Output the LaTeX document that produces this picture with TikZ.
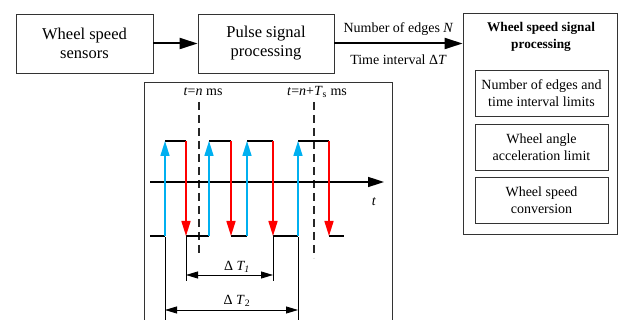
\documentclass[tikz,border=0pt]{standalone}
\usepackage{fontspec}
\setmainfont{Liberation Serif}
\usetikzlibrary{arrows.meta}

\definecolor{risecol}{RGB}{0,176,240}
\definecolor{fallcol}{RGB}{255,0,0}

\begin{document}
\begin{tikzpicture}[
    x=1pt, y=-1pt,
    block/.style={draw=black!80, line width=0.8pt, minimum width=137pt,
                  minimum height=59pt, align=center,
                  font=\fontsize{16.5}{19}\selectfont},
    subblock/.style={draw=black!80, line width=0.8pt, minimum width=133pt,
                     minimum height=46pt, align=center,
                     font=\fontsize{14}{17}\selectfont},
    flow/.style={black, line width=2pt, -{Triangle[length=18pt, width=11pt]}},
    level/.style={black, line width=1.8pt},
    rise/.style={risecol, line width=1.6pt, -{Triangle[length=15pt, width=9pt]}},
    fall/.style={fallcol, line width=1.6pt, -{Triangle[length=15pt, width=9pt]}},
    marker/.style={black!85, line width=1.2pt, dash pattern=on 8pt off 5pt},
    dim/.style={black, line width=0.8pt,
                {Triangle[length=12pt, width=7pt]}-{Triangle[length=12pt, width=7pt]}},
    ext/.style={black, line width=0.7pt},
    lbl/.style={font=\fontsize{14}{17}\selectfont, inner sep=1pt}
]
\useasboundingbox (0,0) rectangle (619,320);

% ---------- blocks ----------
\node[block] (sensor) at (84.5,43.5) {Wheel speed\\sensors};
\node[block, minimum width=136pt] (pulse) at (266,43.5) {Pulse signal\\processing};
\node[draw=black!80, line width=0.8pt, minimum width=154pt, minimum height=221pt]
      (wsp) at (540,123.5) {};
\node[align=center, font=\fontsize{13.3}{17}\selectfont\bfseries]
      (wsptitle) at (541,36.5) {Wheel speed signal\\processing};
\node[subblock] (limits) at (541.5,93) {Number of edges and\\time interval limits};
\node[subblock] (accel) at (541.5,147) {Wheel angle\\acceleration limit};
\node[subblock] (conv) at (541.5,200) {Wheel speed\\conversion};

% ---------- connectors ----------
\draw[flow] (sensor.east) -- (pulse.west);
\draw[flow] (pulse.east) -- (pulse.east -| wsp.west)
    node[lbl, midway, above=6pt] (edges) {Number of edges \textit{N}}
    node[lbl, midway, below=9pt] (interval) {Time interval Δ\textit{T}};

% ---------- timing frame ----------
\draw[black!80, line width=0.8pt] (144,322) -- (144,82) -- (392,82) -- (392,322);

% ---------- sampling instants ----------
\node[lbl] (tn) at (203,92) {\textit{t}=\textit{n} ms};
\node[lbl] (tnts) at (317,92) {\textit{t}=\textit{n}+\textit{T}\textsubscript{s} ms};
\draw[marker] (199,102) -- (199,257);
\draw[marker] (314,102) -- (314,258);

% ---------- time axis ----------
\draw[black, line width=1.6pt, -{Triangle[length=16pt, width=10pt]}] (150,182) -- (384,182);
\node[lbl] (taxis) at (374,202) {\textit{t}};

% ---------- pulse levels ----------
\foreach \a/\b in {150/165,186/209,231/247,273/298,329/344}
  \draw[level] (\a,236) -- (\b,236);
\foreach \a/\b in {165/186,209/231,247/273,298/329}
  \draw[level] (\a,141) -- (\b,141);

% ---------- edges ----------
\foreach \u in {165,209,247,298}
  \draw[rise] (\u,236) -- (\u,141);
\foreach \d in {186,231,273,329}
  \draw[fall] (\d,141) -- (\d,236);

% ---------- intervals ----------
\foreach \u in {186,273}
  \draw[ext] (\u,237) -- (\u,281);
\foreach \u in {165,298}
  \draw[ext] (\u,237) -- (\u,322);
\draw[dim] (186,275) -- (273,275);
\node[lbl] (dt1) at (237,267) {Δ \textit{T\textsubscript{1}}};
\draw[dim] (165,310) -- (298,310);
\node[lbl] (dt2) at (237,301) {Δ \textit{T}\textsubscript{2}};

\end{tikzpicture}
\end{document}
